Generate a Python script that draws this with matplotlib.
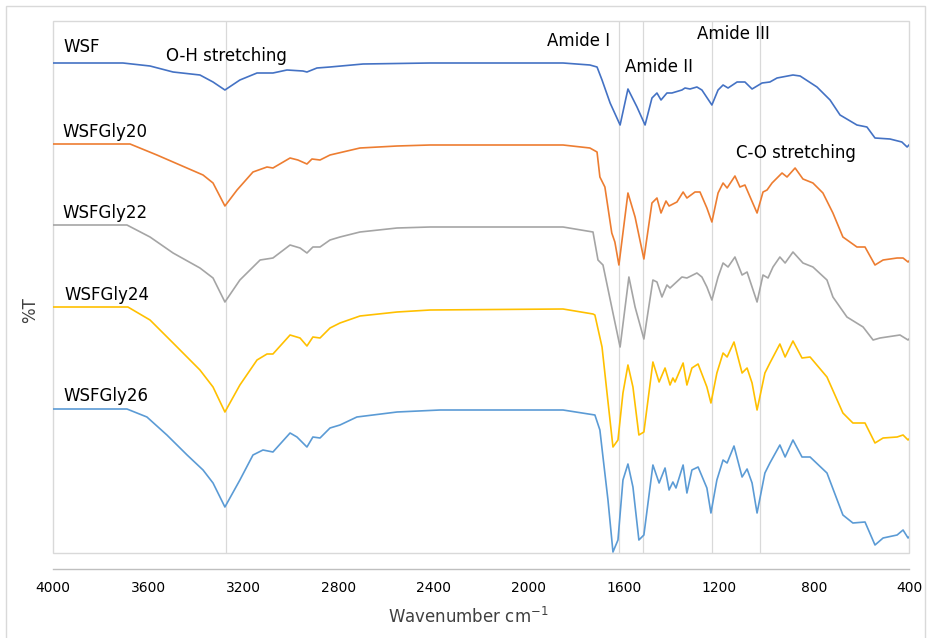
import numpy as np
import matplotlib
matplotlib.use("Agg")
from matplotlib import pyplot as plt
from matplotlib.patches import Rectangle

# FTIR spectra (wavenumber cm-1, offset %T in arbitrary units)
wn_wsf = [4000, 3706, 3592, 3495, 3382, 3327, 3277, 3214, 3142, 3075, 3016, 2949, 2932, 2890,
          2835, 2696, 2414, 1855, 1742, 1712, 1691, 1657, 1615, 1582, 1544, 1510, 1481, 1460,
          1443, 1418, 1397, 1355, 1342, 1321, 1292, 1271, 1229, 1203, 1182, 1161, 1123, 1090,
          1060, 1018, 985, 955, 888, 858, 787, 732, 690, 619, 577, 543, 480, 430, 408, 400]
t_wsf = [489, 489, 486, 480, 477, 470, 462, 472, 479, 479, 482, 481, 480, 484,
         485, 488, 489, 489, 487, 485, 472, 449, 427, 463, 445, 427, 454, 459,
         452, 459, 459, 462, 464, 463, 465, 462, 447, 462, 467, 464, 470, 470,
         463, 469, 470, 474, 477, 476, 465, 452, 437, 427, 425, 414, 413, 410, 405, 407]

wn_g20 = [4000, 3676, 3563, 3466, 3369, 3327, 3277, 3226, 3159, 3100, 3075, 3003, 2970, 2932,
          2911, 2877, 2835, 2709, 2553, 2414, 1855, 1742, 1712, 1700, 1679, 1650, 1637, 1620,
          1582, 1552, 1515, 1481, 1460, 1443, 1422, 1409, 1376, 1350, 1334, 1300, 1279, 1250,
          1229, 1203, 1182, 1165, 1132, 1111, 1090, 1039, 1014, 997, 976, 934, 913, 879,
          846, 804, 762, 720, 678, 619, 585, 543, 509, 450, 425, 404, 400]
t_g20 = [408, 408, 397, 387, 377, 369, 346, 362, 380, 385, 384, 394, 392, 388,
         393, 392, 397, 404, 406, 407, 407, 404, 400, 375, 365, 319, 310, 287,
         359, 335, 293, 349, 354, 339, 351, 346, 350, 360, 354, 360, 360, 344,
         330, 359, 369, 364, 376, 365, 367, 339, 360, 362, 369, 379, 375, 384,
         373, 369, 359, 339, 315, 305, 305, 287, 292, 294, 294, 290, 291]

wn_g22 = [4000, 3689, 3592, 3495, 3382, 3327, 3277, 3214, 3129, 3075, 3003, 2961, 2932, 2907,
          2877, 2835, 2793, 2709, 2553, 2414, 1855, 1729, 1708, 1687, 1645, 1615, 1578, 1552,
          1515, 1477, 1460, 1439, 1418, 1405, 1355, 1334, 1292, 1271, 1250, 1229, 1203, 1182,
          1161, 1132, 1102, 1081, 1039, 1014, 993, 972, 943, 921, 888, 846, 804, 745,
          720, 661, 593, 551, 522, 438, 404, 400]
t_g22 = [327, 327, 315, 299, 284, 274, 250, 272, 292, 294, 307, 304, 299, 305,
         305, 312, 315, 320, 324, 325, 325, 320, 292, 287, 239, 205, 275, 245,
         213, 272, 270, 255, 267, 264, 275, 274, 279, 275, 265, 252, 275, 289,
         285, 295, 277, 280, 250, 277, 274, 285, 295, 289, 300, 289, 285, 272,
         255, 235, 225, 212, 214, 217, 212, 213]

wn_g24 = [4000, 3685, 3592, 3495, 3382, 3327, 3277, 3214, 3142, 3100, 3075, 3003, 2961, 2932,
          2907, 2877, 2835, 2793, 2709, 2553, 2414, 1855, 1729, 1721, 1691, 1670, 1645, 1624,
          1603, 1582, 1561, 1536, 1515, 1477, 1451, 1426, 1405, 1393, 1384, 1350, 1334, 1313,
          1287, 1250, 1233, 1208, 1182, 1165, 1136, 1102, 1081, 1060, 1039, 1006, 985, 943,
          921, 888, 850, 816, 745, 678, 636, 585, 543, 509, 450, 425, 404, 400]
t_g24 = [245, 245, 232, 209, 182, 165, 140, 167, 192, 198, 198, 217, 214, 206,
         215, 214, 224, 229, 236, 240, 242, 243, 238, 237, 205, 159, 105, 112,
         159, 187, 165, 117, 120, 190, 170, 184, 167, 174, 170, 189, 167, 184,
         188, 165, 149, 179, 199, 195, 210, 179, 184, 169, 142, 179, 189, 208,
         195, 211, 194, 195, 175, 139, 129, 129, 109, 114, 115, 117, 112, 113]

wn_g26 = [4000, 3689, 3605, 3521, 3436, 3369, 3327, 3277, 3214, 3159, 3117, 3075, 3003, 2974,
          2932, 2907, 2877, 2835, 2793, 2722, 2553, 2372, 1855, 1721, 1700, 1687, 1666, 1645,
          1624, 1603, 1582, 1561, 1536, 1515, 1477, 1451, 1426, 1409, 1393, 1380, 1350, 1334,
          1313, 1287, 1250, 1233, 1208, 1182, 1165, 1136, 1102, 1081, 1060, 1039, 1006, 985,
          943, 921, 888, 850, 816, 745, 678, 636, 585, 543, 509, 450, 425, 404, 400]
t_g26 = [143, 143, 135, 117, 97, 82, 69, 45, 72, 97, 102, 100, 119, 115,
         105, 115, 114, 124, 127, 135, 140, 142, 142, 137, 122, 95, 52, 0,
         12, 72, 88, 65, 12, 17, 87, 69, 84, 62, 70, 64, 87, 59,
         82, 85, 64, 39, 72, 92, 89, 106, 75, 83, 69, 39, 79, 89,
         107, 95, 112, 95, 95, 79, 37, 29, 30, 7, 14, 17, 22, 14, 15]

series = [
    ("WSF", wn_wsf, t_wsf, "#4472C4"),
    ("WSFGly20", wn_g20, t_g20, "#ED7D31"),
    ("WSFGly22", wn_g22, t_g22, "#A5A5A5"),
    ("WSFGly24", wn_g24, t_g24, "#FFC000"),
    ("WSFGly26", wn_g26, t_g26, "#5B9BD5"),
]
# label position for each series (wavenumber, offset %T)
name_pos = [(3958, 500), (3959, 415), (3962, 334), (3950, 252), (3954, 151)]

band_lines = [3274, 1620, 1517, 1230, 1027]
band_labels = ["O-H stretching", "Amide I", "Amide II", "Amide III", "C-O stretching"]
band_pos = [(3525, 491), (1922, 506), (1594, 480), (1292, 513), (1128, 394)]

xticks = [4000, 3600, 3200, 2800, 2400, 2000, 1600, 1200, 800, 400]

fig = plt.figure(figsize=(9.29, 6.38), dpi=100)
ax = fig.add_axes([53 / 929, 1 - 553 / 638, 856 / 929, 532 / 638])

for x in band_lines:
    ax.axvline(x, color="#D9D9D9", lw=0.9, zorder=0)

for (name, wn, t, c), (px, py) in zip(series, name_pos):
    ax.plot(wn, t, color=c, lw=1.2, zorder=3)
    ax.text(px, py, name, fontsize=12, color="black", ha="left", va="baseline")

for lab, (px, py) in zip(band_labels, band_pos):
    ax.text(px, py, lab, fontsize=12, color="black", ha="left", va="baseline")

ax.set_xlim(4000, 400)
ax.set_ylim(-1, 531)
ax.set_yticks([])
ax.set_xticks(xticks)
ax.set_xticklabels([str(v) for v in xticks], fontsize=8, color="#595959")
ax.tick_params(axis="x", length=0, pad=9)

for s in ["top", "left", "right"]:
    ax.spines[s].set_visible(False)
ax.spines["bottom"].set_position(("outward", 11.5))
ax.spines["bottom"].set_color("#BFBFBF")
ax.spines["bottom"].set_linewidth(1.0)
ax.add_patch(Rectangle((0, 0), 1, 1, transform=ax.transAxes, fill=False,
                       ec="#D9D9D9", lw=1.0, clip_on=False, zorder=1))

fig.text(468 / 929, 1 - 617 / 638, "Wavenumber cm$^{-1}$", fontsize=12,
         color="#404040", ha="center", va="center")
fig.text(30 / 929, 1 - 310 / 638, "%T", fontsize=12, color="#404040",
         rotation=90, ha="center", va="center")

fig.patches.append(Rectangle((6 / 929, -0.02), 919 / 929, 1.02 - 6 / 638,
                             transform=fig.transFigure, fill=False,
                             ec="#D9D9D9", lw=1.0))

fig.savefig("out.png", dpi=100)
